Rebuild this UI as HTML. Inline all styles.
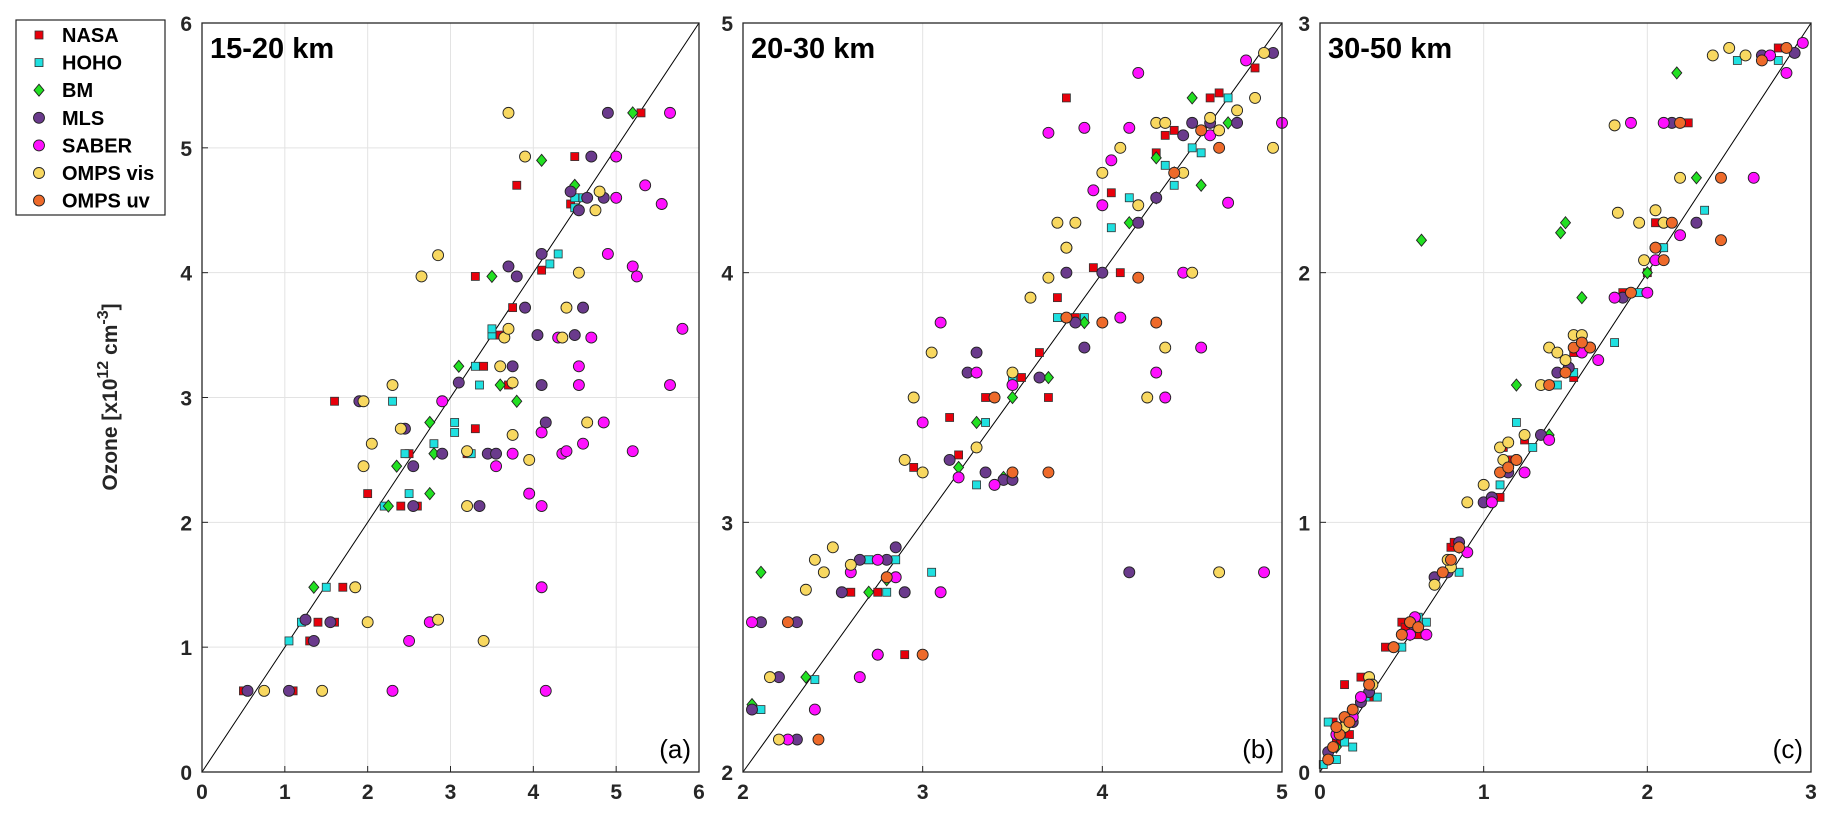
<!DOCTYPE html>
<html><head><meta charset="utf-8"><style>
body{margin:0;background:#fff;width:1825px;height:818px;overflow:hidden;font-family:"Liberation Sans",sans-serif}
svg text{font-family:"Liberation Sans",sans-serif}
</style></head><body>
<svg id="c" width="1825" height="818"></svg>
<script>
const seriesNames=["NASA","HOHO","BM","MLS","SABER","OMPS vis","OMPS uv"];
const seriesColors=["#e8000b","#1fe0e0","#22e022","#6a3a8c","#ff10ff","#f8d860","#ee6a2a"];
const seriesShapes=["sq","sq","di","ci","ci","ci","ci"];
const panelTitles=["15-20 km","20-30 km","30-50 km"];
const panelTags=["(a)","(b)","(c)"];
const panelRanges=[[0,6],[2,5],[0,3]];
const ticksA=[0,1,2,3,4,5,6], ticksB=[2,3,4,5], ticksC=[0,1,2,3];
const aNASA=[[0.5,0.65],[1.1,0.65],[1.3,1.05],[1.4,1.2],[1.6,1.2],[1.6,2.97],[1.7,1.48],[2.0,2.23],[2.4,2.13],[2.6,2.13],[2.5,2.55],[3.3,3.97],[3.3,2.75],[3.5,2.55],[3.6,3.5],[3.7,3.1],[3.75,3.72],[3.8,4.7],[4.1,4.02],[4.45,4.55],[4.5,4.93],[5.3,5.28],[3.2,2.55],[3.4,3.25]];
const aHOHO=[[1.05,1.05],[1.2,1.2],[1.5,1.48],[2.2,2.13],[2.3,2.97],[2.5,2.23],[2.45,2.55],[2.8,2.63],[3.05,2.72],[3.05,2.8],[3.25,2.55],[3.35,3.1],[3.3,3.25],[3.5,3.5],[3.5,3.55],[4.3,4.15],[4.2,4.07],[4.5,4.6],[4.6,4.6],[4.5,4.52]];
const aBM=[[1.35,1.48],[2.25,2.13],[2.35,2.45],[2.75,2.23],[2.75,2.8],[3.1,3.25],[3.5,3.97],[3.6,3.1],[3.8,2.97],[4.1,4.9],[4.5,4.7],[5.2,5.28],[2.8,2.55]];
const aMLS=[[0.55,0.65],[1.05,0.65],[1.25,1.22],[1.35,1.05],[1.55,1.2],[1.9,2.97],[2.45,2.75],[2.55,2.45],[2.55,2.13],[2.9,2.55],[3.1,3.12],[3.35,2.13],[3.45,2.55],[3.55,2.55],[3.75,3.25],[3.7,4.05],[3.8,3.97],[3.9,3.72],[4.05,3.5],[4.1,4.15],[4.15,2.8],[4.1,3.1],[4.45,4.65],[4.55,4.5],[4.65,4.6],[4.7,4.93],[4.85,4.6],[4.9,5.28],[4.6,3.72],[4.5,3.5]];
const aSABER=[[2.3,0.65],[2.5,1.05],[2.75,1.2],[2.9,2.97],[3.75,2.55],[3.95,2.23],[4.1,2.13],[4.1,1.48],[4.15,0.65],[4.1,2.72],[4.35,2.55],[4.4,2.57],[4.55,3.25],[4.55,3.1],[4.6,2.63],[4.7,3.48],[4.85,2.8],[4.9,4.15],[5.0,4.93],[5.0,4.6],[5.2,4.05],[5.25,3.97],[5.2,2.57],[5.35,4.7],[5.55,4.55],[5.65,5.28],[5.65,3.1],[5.8,3.55],[4.3,3.48],[3.55,2.45]];
const aVIS=[[0.75,0.65],[1.45,0.65],[1.85,1.48],[1.95,2.97],[2.0,1.2],[2.05,2.63],[1.95,2.45],[2.3,3.1],[2.4,2.75],[2.65,3.97],[2.85,4.14],[2.85,1.22],[3.2,2.13],[3.2,2.57],[3.4,1.05],[3.6,3.25],[3.65,3.48],[3.7,3.55],[3.75,2.7],[3.9,4.93],[3.95,2.5],[4.4,3.72],[4.35,3.48],[4.55,4.0],[4.65,2.8],[4.75,4.5],[4.8,4.65],[3.7,5.28],[3.75,3.12]];
const aUV=[];
const bNASA=[[2.2,2.13],[2.25,2.6],[2.6,2.72],[2.75,2.72],[2.9,2.47],[3.0,2.47],[2.95,3.22],[3.15,3.42],[3.2,3.27],[3.35,3.5],[3.4,3.5],[3.55,3.58],[3.65,3.68],[3.7,3.5],[3.75,3.9],[3.8,4.7],[3.85,3.82],[3.95,4.02],[4.05,4.32],[4.1,4.0],[4.2,4.2],[4.35,4.55],[4.4,4.57],[4.5,4.6],[4.6,4.7],[4.65,4.72],[4.85,4.82],[4.3,4.48],[2.7,2.85]];
const bHOHO=[[2.1,2.25],[2.4,2.37],[2.7,2.85],[2.8,2.72],[3.05,2.8],[3.3,3.15],[3.35,3.4],[3.5,3.58],[3.75,3.82],[3.9,3.82],[4.05,4.18],[4.15,4.3],[4.35,4.43],[4.5,4.5],[4.55,4.48],[4.7,4.7],[4.9,4.88],[4.95,4.88],[4.4,4.35],[2.85,2.85]];
const bBM=[[2.05,2.27],[2.1,2.8],[2.35,2.38],[2.7,2.72],[2.8,2.77],[3.2,3.22],[3.3,3.4],[3.45,3.18],[3.5,3.5],[3.7,3.58],[3.9,3.8],[4.15,4.2],[4.3,4.3],[4.4,4.4],[4.55,4.35],[4.5,4.7],[4.7,4.6],[4.3,4.46]];
const bMLS=[[2.05,2.25],[2.1,2.6],[2.2,2.38],[2.3,2.6],[2.3,2.13],[2.55,2.72],[2.75,2.47],[2.85,2.9],[2.9,2.72],[3.15,3.25],[3.25,3.6],[3.3,3.68],[3.35,3.2],[3.45,3.17],[3.5,3.17],[3.65,3.58],[3.8,4.0],[3.9,3.7],[4.0,4.0],[4.15,2.8],[4.3,4.3],[4.45,4.55],[4.5,4.6],[4.6,4.6],[4.75,4.6],[4.95,4.88],[3.85,3.8],[4.2,4.2],[2.8,2.85],[2.65,2.85]];
const bSABER=[[2.05,2.6],[2.25,2.13],[2.4,2.25],[2.65,2.38],[2.75,2.47],[2.85,2.78],[3.0,3.4],[3.1,3.8],[3.1,2.72],[3.2,3.18],[3.3,3.6],[3.4,3.15],[3.5,3.55],[3.7,4.56],[3.9,4.58],[3.95,4.33],[4.05,4.45],[4.1,3.82],[4.15,4.58],[4.2,4.8],[4.3,3.6],[4.35,3.5],[4.45,4.0],[4.55,3.7],[4.6,4.55],[4.7,4.28],[4.9,2.8],[5.0,4.6],[4.8,4.85],[4.0,4.27],[3.8,4.1],[2.75,2.85],[2.6,2.8]];
const bVIS=[[2.15,2.38],[2.2,2.13],[2.35,2.73],[2.4,2.85],[2.45,2.8],[2.5,2.9],[2.6,2.83],[2.95,3.5],[2.9,3.25],[3.0,3.2],[3.05,3.68],[3.3,3.3],[3.5,3.6],[3.6,3.9],[3.7,3.98],[3.75,4.2],[3.8,4.1],[3.85,4.2],[4.0,4.4],[4.1,4.5],[4.2,4.27],[4.3,4.6],[4.35,3.7],[4.35,4.6],[4.45,4.4],[4.5,4.0],[4.6,4.62],[4.65,4.57],[4.65,2.8],[4.75,4.65],[4.85,4.7],[4.9,4.88],[4.95,4.5],[4.25,3.5]];
const bUV=[[2.25,2.6],[2.42,2.13],[3.0,2.47],[3.4,3.5],[3.5,3.2],[3.7,3.2],[3.8,3.82],[4.0,3.8],[4.3,3.8],[4.2,3.98],[4.4,4.4],[4.55,4.57],[4.65,4.5],[2.8,2.78]];
const cNASA=[[0.05,0.05],[0.1,0.12],[0.15,0.2],[0.2,0.25],[0.15,0.35],[0.25,0.38],[0.4,0.5],[0.5,0.6],[0.6,0.55],[0.75,0.8],[0.8,0.9],[1.1,1.1],[1.15,1.25],[1.25,1.33],[1.35,1.35],[1.5,1.6],[1.55,1.68],[1.6,1.75],[1.85,1.92],[2.0,2.0],[2.05,2.2],[2.2,2.6],[2.25,2.6],[2.8,2.9],[2.9,2.88],[0.3,0.3],[0.08,0.2],[0.18,0.15],[0.52,0.58],[0.82,0.92],[1.12,1.3],[1.55,1.58],[1.62,1.7],[2.08,2.1]];
const cHOHO=[[0.02,0.03],[0.05,0.2],[0.1,0.05],[0.2,0.1],[0.35,0.3],[0.5,0.5],[0.65,0.6],[0.8,0.85],[1.1,1.15],[1.3,1.3],[1.45,1.55],[1.55,1.6],[1.8,1.72],[1.95,1.92],[2.1,2.1],[2.35,2.25],[2.8,2.85],[2.95,2.92],[2.55,2.85],[1.2,1.4],[0.15,0.12],[0.28,0.3],[0.6,0.62],[0.85,0.8],[1.15,1.2]];
const cBM=[[0.1,0.1],[0.55,0.55],[0.62,2.13],[1.2,1.55],[1.4,1.35],[1.47,2.16],[1.5,2.2],[1.6,1.9],[2.18,2.8],[2.3,2.38],[2.0,2.0],[0.85,0.9]];
const cMLS=[[0.05,0.08],[0.2,0.2],[0.3,0.32],[0.45,0.5],[0.55,0.6],[0.7,0.78],[0.85,0.92],[1.0,1.08],[1.2,1.25],[1.35,1.35],[1.45,1.6],[1.65,1.7],[1.85,1.9],[2.05,2.1],[2.15,2.6],[2.3,2.2],[2.7,2.87],[2.9,2.88],[1.15,1.2],[0.12,0.15],[0.25,0.28],[0.58,0.58],[0.78,0.8],[1.05,1.1],[1.52,1.62],[2.1,2.2]];
const cSABER=[[0.1,0.15],[0.25,0.3],[0.55,0.55],[0.65,0.55],[0.9,0.88],[1.05,1.08],[1.25,1.2],[1.4,1.33],[1.6,1.68],[1.7,1.65],[1.8,1.9],[2.0,1.92],[2.05,2.05],[2.1,2.6],[2.2,2.15],[2.65,2.38],[2.85,2.8],[2.95,2.92],[1.9,2.6],[2.75,2.87],[0.2,0.22],[0.58,0.62]];
const cVIS=[[0.15,0.18],[0.3,0.38],[0.5,0.55],[0.7,0.75],[0.8,0.82],[0.9,1.08],[1.0,1.15],[1.1,1.3],[1.25,1.35],[1.35,1.55],[1.4,1.7],[1.55,1.75],[1.6,1.75],[1.8,2.59],[1.82,2.24],[1.95,2.2],[2.05,2.25],[2.2,2.38],[2.4,2.87],[2.5,2.9],[2.6,2.87],[1.15,1.32],[1.5,1.65],[0.32,0.35],[0.55,0.6],[0.78,0.85],[1.12,1.25],[1.45,1.68],[2.1,2.2],[1.98,2.05]];
const cUV=[[0.05,0.05],[0.08,0.1],[0.12,0.15],[0.15,0.22],[0.2,0.25],[0.3,0.35],[0.45,0.5],[0.55,0.6],[0.75,0.8],[0.85,0.9],[1.1,1.2],[1.2,1.25],[1.4,1.55],[1.55,1.7],[1.65,1.7],[1.9,1.92],[2.05,2.1],[2.15,2.2],[2.2,2.6],[2.45,2.38],[2.45,2.13],[2.7,2.85],[2.85,2.9],[0.1,0.18],[0.18,0.2],[0.5,0.55],[0.6,0.58],[0.8,0.85],[1.15,1.22],[1.5,1.6],[1.6,1.72],[2.1,2.05]];
const panelData=[[aNASA,aHOHO,aBM,aMLS,aSABER,aVIS,aUV],[bNASA,bHOHO,bBM,bMLS,bSABER,bVIS,bUV],[cNASA,cHOHO,cBM,cMLS,cSABER,cVIS,cUV]];
const panelTicks=[ticksA,ticksB,ticksC];

const NS="http://www.w3.org/2000/svg";
const svg=document.getElementById('c');
function mk(tag,attrs,parent){const e=document.createElementNS(NS,tag);for(const k in attrs)e.setAttribute(k,attrs[k]);(parent||svg).appendChild(e);return e;}
const boxes=[[202,699],[743,1282],[1320,1811]];
const TOP=23,BOT=772;

function marker(g,shape,color,px,py){
  let m;
  if(shape==="sq") m=mk('rect',{x:px-4,y:py-4,width:8,height:8,fill:color,stroke:'#333','stroke-width':0.8},g);
  else if(shape==="di") m=mk('polygon',{points:`${px},${py-6} ${px+5},${py} ${px},${py+6} ${px-5},${py}`,fill:color,stroke:'#222','stroke-width':0.9},g);
  else m=mk('circle',{cx:px,cy:py,r:5.5,fill:color,stroke:'#222','stroke-width':0.9},g);
  return m;
}

panelData.forEach((series,p)=>{
  const [x0,x1]=boxes[p],[lo,hi]=panelRanges[p];
  const sx=v=>x0+(v-lo)/(hi-lo)*(x1-x0);
  const sy=v=>BOT-(v-lo)/(hi-lo)*(BOT-TOP);
  const g=mk('g',{});
  
  
  mk('rect',{x:x0,y:TOP,width:x1-x0,height:BOT-TOP,fill:'#fff'},g);
  panelTicks[p].forEach(t=>{
    const X=sx(t),Y=sy(t);
    mk('line',{x1:X,y1:TOP,x2:X,y2:BOT,stroke:'#e3e3e3','stroke-width':1},g);
    mk('line',{x1:x0,y1:Y,x2:x1,y2:Y,stroke:'#e3e3e3','stroke-width':1},g);
    mk('line',{x1:X,y1:BOT,x2:X,y2:BOT-6,stroke:'#262626'},g);
    mk('line',{x1:x0,y1:Y,x2:x0+6,y2:Y,stroke:'#262626'},g);
    const xt=mk('text',{x:X,y:BOT+27,'text-anchor':'middle','font-size':21,'font-weight':'bold',fill:'#262626'},g);
    xt.textContent=t;
    
    
    const yt=mk('text',{x:x0-10,y:Y+8,'text-anchor':'end','font-size':21,'font-weight':'bold',fill:'#262626'},g);
    yt.textContent=t;
    
    
  });
  mk('line',{x1:sx(lo),y1:sy(lo),x2:sx(hi),y2:sy(hi),stroke:'#000','stroke-width':1},g);
  series.forEach((pts,s)=>{
    pts.forEach(pt=>{
      const m=marker(g,seriesShapes[s],seriesColors[s],sx(pt[0]),sy(pt[1]));
      
      
    });
  });
  mk('rect',{x:x0,y:TOP,width:x1-x0,height:BOT-TOP,fill:'none',stroke:'#262626','stroke-width':1.3},g);
  const tt=mk('text',{x:x0+8,y:TOP+35,'font-size':29,'font-weight':'bold',fill:'#000'},g);
  tt.textContent=panelTitles[p];
  
  
  const tg=mk('text',{x:x1-8,y:BOT-14,'text-anchor':'end','font-size':26,fill:'#000'},g);
  tg.textContent=panelTags[p];
  
  
});

const yl=mk('text',{transform:'translate(117,397) rotate(-90)','text-anchor':'middle','font-size':21,'font-weight':'bold',fill:'#262626'});
yl.innerHTML='Ozone [x10<tspan dy="-9" font-size="16">12</tspan><tspan dy="9"> cm</tspan><tspan dy="-9" font-size="16">-3</tspan><tspan dy="9">]</tspan>';



const lg=mk('g',{});


mk('rect',{x:16,y:20,width:149,height:195,fill:'#fff',stroke:'#262626','stroke-width':1.2},lg);
seriesNames.forEach((n,i)=>{
  const y=35+i*27.6;
  const e=mk('g',{},lg);
  
  
  marker(e,seriesShapes[i],seriesColors[i],39,y);
  const t=mk('text',{x:62,y:y+7,'font-size':20,'font-weight':'bold',fill:'#000'},e);
  t.textContent=n;
});
</script>
</body></html>
